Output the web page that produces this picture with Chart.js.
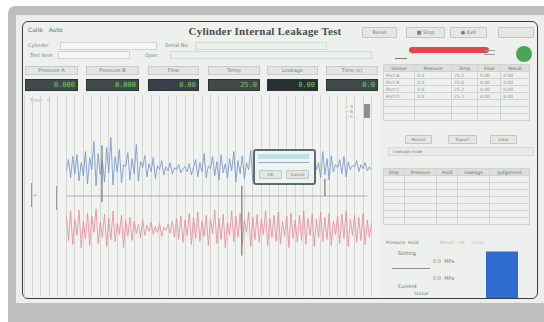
<!DOCTYPE html>
<html>
<head>
<meta charset="utf-8">
<script src="https://cdn.jsdelivr.net/npm/chart.js@4/dist/chart.umd.min.js"></script>
<style>
  html,body{margin:0;padding:0;background:#ffffff;width:544px;height:322px;overflow:hidden;font-family:"DejaVu Sans",sans-serif;}
  .abs{position:absolute;}
  #frame{left:8px;top:6px;width:560px;height:330px;background:#bdbfbd;border-radius:7px;}
  #panel{left:16px;top:15px;width:540px;height:288px;background:#ecedec;}
  #screen{left:22px;top:21px;width:514px;height:276px;background:#eef0ee;border:1.5px solid #3c3c3c;border-radius:6px;}
  .t{color:#7a7d7a;font-size:5px;white-space:nowrap;}
  .lbl{background:#e2e5e2;border:1px solid #c8ccc8;height:7px;}
  .dark{background:#3f4b4a;border:1px solid #2a3332;height:10px;}
  .dark span{position:absolute;right:2px;top:1px;font-size:7px;color:#6fcf5a;font-family:"DejaVu Sans Mono",monospace;}
  .btn{background:#e4e7e4;border:1px solid #c4c8c4;border-radius:1px;}
  table{border-collapse:collapse;font-size:4.5px;color:#8a8d8a;}
  td,th{border:1px solid #cfd2cf;padding:0 2px;height:6px;white-space:nowrap;}
  th{background:#dcdfdc;color:#6f726f;font-weight:normal;}
</style>
</head>
<body>
<div id="frame" class="abs"></div>
<div id="panel" class="abs"></div>
<div id="screen" class="abs"></div>

<!-- header -->
<div class="abs t" style="left:28px;top:26px;font-size:6px;color:#6a6d6a;">Calib &nbsp; Auto</div>
<div class="abs" style="left:160px;top:25px;width:210px;text-align:center;font-size:11px;font-weight:bold;color:#4a4d4a;font-family:'Liberation Serif',serif;letter-spacing:0.2px;">Cylinder Internal Leakage Test</div>
<div class="abs btn t" style="left:362px;top:27px;width:33px;height:9px;line-height:9px;text-align:center;">Reset</div>
<div class="abs btn t" style="left:406px;top:27px;width:37px;height:9px;line-height:9px;text-align:center;">&#9632; Stop</div>
<div class="abs btn t" style="left:450px;top:27px;width:35px;height:9px;line-height:9px;text-align:center;">&#9679; Exit</div>
<div class="abs btn" style="left:498px;top:27px;width:34px;height:9px;"></div>
<div class="abs" style="left:409px;top:47px;width:80px;height:6px;background:#e8454a;border-radius:3px;"></div>
<div class="abs" style="left:484px;top:50px;width:11px;height:1px;background:#9a9d9a;"></div>
<div class="abs" style="left:484px;top:54px;width:11px;height:1px;background:#9a9d9a;"></div>
<div class="abs" style="left:516px;top:46px;width:16px;height:16px;border-radius:50%;background:#4aa55a;"></div>
<div class="abs t" style="left:28px;top:42px;">Cylinder</div>
<div class="abs" style="left:60px;top:42px;width:95px;height:6px;background:#f6f7f6;border:1px solid #d0d3d0;"></div>
<div class="abs t" style="left:165px;top:42px;">Serial No.</div>
<div class="abs" style="left:195px;top:42px;width:130px;height:6px;background:#e9f2e9;border:1px solid #d5dcd5;"></div>
<div class="abs t" style="left:30px;top:52px;">Test Item</div>
<div class="abs" style="left:58px;top:51px;width:70px;height:6px;background:#f6f7f6;border:1px solid #d0d3d0;"></div>
<div class="abs t" style="left:145px;top:52px;">Oper.</div>
<div class="abs" style="left:170px;top:51px;width:200px;height:6px;background:#eaf1ea;border:1px solid #d5dcd5;"></div>
<div class="abs" style="left:395px;top:58px;width:12px;height:1px;background:#7a7d7a;"></div>

<!-- display boxes -->
<div class="abs lbl t" style="left:25px;top:66px;width:51px;text-align:center;">Pressure A</div>
<div class="abs dark" style="left:25px;top:79px;width:51px;"><span>0.000</span></div>
<div class="abs lbl t" style="left:86px;top:66px;width:51px;text-align:center;">Pressure B</div>
<div class="abs dark" style="left:86px;top:79px;width:51px;"><span>0.000</span></div>
<div class="abs lbl t" style="left:148px;top:66px;width:49px;text-align:center;">Flow</div>
<div class="abs dark" style="left:148px;top:79px;width:49px;background:#3c3e4a;"><span>0.00</span></div>
<div class="abs lbl t" style="left:208px;top:66px;width:50px;text-align:center;">Temp</div>
<div class="abs dark" style="left:208px;top:79px;width:50px;background:#434848;"><span>25.0</span></div>
<div class="abs lbl t" style="left:267px;top:66px;width:49px;text-align:center;">Leakage</div>
<div class="abs dark" style="left:267px;top:79px;width:49px;background:#273032;"><span>0.00</span></div>
<div class="abs lbl t" style="left:326px;top:66px;width:50px;text-align:center;">Time (s)</div>
<div class="abs dark" style="left:326px;top:79px;width:50px;"><span>0.0</span></div>

<!-- main chart -->
<div class="abs" style="left:24px;top:95px;width:356px;height:202px;background:#f1f3f1;"></div>
<div class="abs t" style="left:30px;top:97px;color:#a6a9a6;">Time &nbsp; 0</div>
<div class="abs t" style="left:345px;top:104px;font-size:4px;line-height:5px;color:#8a8d8a;">— A<br>— B<br>— C</div>
<div class="abs" style="left:364px;top:104px;width:6px;height:14px;background:#8a8f90;"></div>
<div class="abs" style="left:31px;top:183px;width:1px;height:24px;background:#d77a8a;"></div>
<div class="abs" style="left:40px;top:185px;width:1px;height:20px;background:#d77a8a;"></div>
<div class="abs t" style="left:33px;top:192px;color:#d77a8a;">=</div>
<div class="abs" style="left:56px;top:186px;width:1px;height:24px;background:#9a9d9a;"></div>
<canvas id="c" class="abs" width="356" height="202" style="left:24px;top:95px;"></canvas>

<!-- dialog -->
<div class="abs" style="left:253px;top:149px;width:59px;height:32px;border:2px solid #5d6d74;border-radius:3px;background:#eef3f3;"></div>
<div class="abs" style="left:258px;top:154px;width:51px;height:5px;background:#bfdfe0;"></div>
<div class="abs" style="left:258px;top:162px;width:51px;height:1px;background:#9ab;"></div>
<div class="abs btn t" style="left:259px;top:170px;width:21px;height:7px;line-height:7px;text-align:center;font-size:4px;">OK</div>
<div class="abs btn t" style="left:286px;top:170px;width:21px;height:7px;line-height:7px;text-align:center;font-size:4px;">Cancel</div>

<!-- right panel -->
<table class="abs" style="left:383px;top:64px;width:147px;">
<tr><th>Sensor</th><th>Pressure</th><th>Temp</th><th>Flow</th><th>Result</th></tr>
<tr><td>Port A</td><td>0.0</td><td>25.1</td><td>0.00</td><td>0.00</td></tr>
<tr><td>Port B</td><td>0.0</td><td>25.0</td><td>0.00</td><td>0.00</td></tr>
<tr><td>Port C</td><td>0.0</td><td>25.2</td><td>0.00</td><td>0.00</td></tr>
<tr><td>Port D</td><td>0.0</td><td>25.1</td><td>0.00</td><td>0.00</td></tr>
<tr><td>&nbsp;</td><td></td><td></td><td></td><td></td></tr>
<tr><td>&nbsp;</td><td></td><td></td><td></td><td></td></tr>
<tr><td>&nbsp;</td><td></td><td></td><td></td><td></td></tr>
</table>
<div class="abs btn t" style="left:405px;top:135px;width:25px;height:7px;line-height:7px;text-align:center;font-size:4px;">Record</div>
<div class="abs btn t" style="left:448px;top:135px;width:27px;height:7px;line-height:7px;text-align:center;font-size:4px;">Export</div>
<div class="abs btn t" style="left:490px;top:135px;width:25px;height:7px;line-height:7px;text-align:center;font-size:4px;">Clear</div>
<div class="abs t" style="left:388px;top:147px;width:140px;height:7px;background:#e9ebe9;border:1px solid #d6d9d6;font-size:4px;line-height:7px;padding-left:4px;">Leakage mode</div>
<table class="abs" style="left:383px;top:168px;width:147px;">
<tr><th>Step</th><th>Pressure</th><th>Hold</th><th>Leakage</th><th>Judgement</th></tr>
<tr><td>&nbsp;</td><td></td><td></td><td></td><td></td></tr>
<tr><td>&nbsp;</td><td></td><td></td><td></td><td></td></tr>
<tr><td>&nbsp;</td><td></td><td></td><td></td><td></td></tr>
<tr><td>&nbsp;</td><td></td><td></td><td></td><td></td></tr>
<tr><td>&nbsp;</td><td></td><td></td><td></td><td></td></tr>
<tr><td>&nbsp;</td><td></td><td></td><td></td><td></td></tr>
<tr><td>&nbsp;</td><td></td><td></td><td></td><td></td></tr>
</table>
<div class="abs t" style="left:386px;top:240px;font-size:4.5px;">Pressure &nbsp;Hold</div>
<div class="abs t" style="left:440px;top:240px;font-size:4.5px;color:#a9c9a9;">Result &nbsp; OK &nbsp; &nbsp; Level</div>
<div class="abs t" style="left:398px;top:250px;font-size:5px;color:#6a6d6a;">Setting</div>
<div class="abs t" style="left:433px;top:258px;font-size:5px;">0.0 &nbsp;MPa</div>
<div class="abs" style="left:392px;top:268px;width:38px;height:1px;background:#8a8d8a;"></div>
<div class="abs t" style="left:433px;top:275px;font-size:5px;">0.0 &nbsp;MPa</div>
<div class="abs t" style="left:398px;top:283px;font-size:5px;color:#6a6d6a;">Current</div>
<div class="abs t" style="left:414px;top:291px;font-size:4.5px;">Status</div>
<canvas id="lvl" class="abs" width="32" height="48" style="left:486px;top:250px;"></canvas>

<script>
// ---- data ----
const sampleStart = 5;       // first sample on the time axis
const sampleStep = 0.25;     // time between samples

const pressureA = [
 2.5,3.6,1.8,3.9,2.2,4.1,1.5,3.3,2.0,4.4,
 1.2,3.8,2.6,5.4,1.0,4.2,2.1,3.5,1.4,4.8,
 2.3,5.8,1.1,3.9,2.4,4.6,1.3,3.1,2.9,4.3,
 1.6,3.7,2.2,5.1,1.5,3.4,2.8,4.0,1.9,3.2,
 2.4,3.8,1.7,3.0,2.6,3.5,2.1,2.9,2.5,3.3,
 2.2,2.8,2.6,3.1,2.3,2.7,2.9,2.4,3.2,2.1,
 2.8,3.6,1.9,3.3,2.4,4.2,1.8,3.0,2.7,3.9,
 2.0,3.4,1.6,4.1,2.3,3.2,1.8,3.7,2.5,4.4,
 1.4,3.5,2.2,4.0,1.7,3.3,2.6,4.5,1.5,3.8,
 2.1,4.2,1.9,3.0,2.8,3.6,2.0,4.3,1.6,3.5,
 2.4,3.9,1.8,3.2,2.7,4.0,2.2,3.4,1.9,3.7,
 2.5,4.1,1.7,3.6,2.3,4.6,1.5,3.9,2.6,3.3,
 1.8,4.4,2.1,3.7,1.6,4.0,2.4,3.1,2.8,3.6,
 2.2,3.9,1.9,3.4,2.6,3.0,2.9,3.5,2.4,3.1,
 2.7,3.3,2.5,2.9,2.6
];
const pressureB = [
 -2.1,-4.4,-1.5,-4.8,-2.3,-3.9,-1.4,-5.1,-2.5,-4.2,
 -1.7,-4.9,-2.0,-3.6,-1.3,-4.7,-2.6,-4.1,-1.8,-5.0,
 -2.2,-4.3,-1.5,-4.5,-2.7,-3.8,-1.9,-5.1,-2.4,-4.0,
 -2.1,-4.4,-2.5,-3.7,-2.8,-4.1,-2.3,-3.9,-2.9,-3.5,
 -2.6,-3.8,-3.0,-3.6,-2.7,-4.0,-3.1,-3.4,-2.8,-3.7,
 -2.5,-4.1,-2.2,-4.3,-2.0,-4.6,-2.4,-3.9,-1.7,-4.8,
 -2.1,-4.2,-1.6,-4.5,-2.5,-4.0,-1.9,-4.9,-2.3,-3.7,
 -1.4,-4.7,-2.2,-4.3,-1.8,-5.1,-2.6,-3.9,-1.5,-4.5,
 -2.0,-4.1,-1.7,-4.8,-2.4,-3.6,-1.6,-5.0,-2.1,-4.3,
 -1.8,-4.6,-2.3,-3.8,-1.5,-4.9,-2.2,-4.1,-1.9,-4.5,
 -1.6,-4.7,-2.5,-4.0,-2.0,-5.1,-1.7,-4.2,-2.4,-4.6,
 -1.9,-4.4,-1.5,-4.8,-2.2,-3.9,-1.8,-5.0,-2.3,-4.1,
 -1.6,-4.5,-2.1,-4.3,-1.7,-4.9,-2.5,-3.8,-2.0,-4.7,
 -1.8,-4.2,-1.5,-5.0,-2.3,-3.9,-1.9,-4.6,-2.1,-4.4,
 -1.7,-4.8,-2.4,-4.1,-2.7
];
const baselineX = [5, 40.5];
const baselineY = [0, 0];
const cursorX = [9.2, 25.7, 35.5];
const cursorTop = [5.0, 1.0, 1.7];
const cursorBottom = [-0.6, -5.9, 0.0];
const levelLabels = ['Level'];
const levelValues = [96];

// ---- build ----
const toPts = arr => arr.map((v, i) => ({x: sampleStart + i * sampleStep, y: v}));
const datasets = [
  {data: toPts(pressureA), borderColor: 'rgba(118,152,206,0.85)', borderWidth: 1, pointRadius: 0, order: 2},
  {data: toPts(pressureB), borderColor: 'rgba(234,134,152,0.8)', borderWidth: 1, pointRadius: 0, order: 2},
  {data: baselineX.map((x, i) => ({x, y: baselineY[i]})), borderColor: '#a8aca8', borderWidth: 1, pointRadius: 0, order: 1}
];
cursorX.forEach((x, i) => datasets.push({
  data: [{x, y: cursorTop[i]}, {x, y: cursorBottom[i]}],
  borderColor: 'rgba(110,115,115,0.5)', borderWidth: 1, pointRadius: 0, order: 0
}));

new Chart(document.getElementById('c'), {
  type: 'line',
  data: {datasets},
  options: {
    responsive: false, animation: false, devicePixelRatio: 1,
    layout: {padding: 0},
    plugins: {legend: {display: false}, tooltip: {enabled: false}},
    scales: {
      x: {type: 'linear', min: 0, max: 42,
          ticks: {display: false, stepSize: 1},
          grid: {color: '#d3d6d3', drawTicks: false, lineWidth: 1},
          border: {display: false}},
      y: {min: -10, max: 10, display: false}
    }
  }
});

new Chart(document.getElementById('lvl'), {
  type: 'bar',
  data: {labels: levelLabels, datasets: [{data: levelValues, backgroundColor: '#2f6cd0', borderWidth: 0, barPercentage: 1, categoryPercentage: 1}]},
  options: {
    responsive: false, animation: false, devicePixelRatio: 1,
    layout: {padding: 0},
    plugins: {legend: {display: false}, tooltip: {enabled: false}},
    scales: {x: {display: false}, y: {display: false, min: 0, max: 100}}
  }
});
</script>
</body>
</html>
